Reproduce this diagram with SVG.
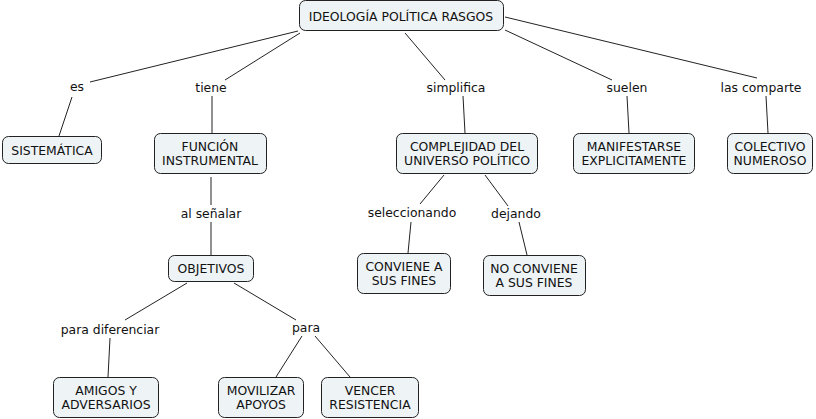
<svg xmlns="http://www.w3.org/2000/svg" width="816" height="419" viewBox="0 0 816 419">
<style>
.n rect{fill:#eef3f6;stroke:#222;stroke-width:1;}
text{font-family:"DejaVu Sans",Verdana,sans-serif;font-size:12.4px;fill:#111;text-anchor:middle;}
.c line{stroke:#222;stroke-width:1;}
</style>
<rect width="816" height="419" fill="#fff"/>
<g class="c" id="connectors">
<line x1="298" y1="31" x2="90" y2="82"/>
<line x1="72" y1="97" x2="59" y2="136"/>
<line x1="300" y1="33" x2="225" y2="80"/>
<line x1="212" y1="96" x2="212" y2="133"/>
<line x1="405" y1="33" x2="445" y2="80"/>
<line x1="463" y1="96" x2="465" y2="133"/>
<line x1="505" y1="30" x2="612" y2="80"/>
<line x1="627" y1="96" x2="629" y2="133"/>
<line x1="505" y1="17" x2="757" y2="78"/>
<line x1="766" y1="96" x2="768" y2="133"/>
<line x1="211" y1="177" x2="211" y2="205"/>
<line x1="211" y1="222" x2="211" y2="255"/>
<line x1="444" y1="175" x2="420" y2="204"/>
<line x1="411" y1="222" x2="408" y2="253"/>
<line x1="485" y1="175" x2="508" y2="206"/>
<line x1="519" y1="222" x2="527" y2="255"/>
<line x1="187" y1="283" x2="125" y2="320"/>
<line x1="110" y1="338" x2="108" y2="377"/>
<line x1="234" y1="283" x2="296" y2="320"/>
<line x1="302" y1="336" x2="276" y2="377"/>
<line x1="315" y1="336" x2="350" y2="377"/>
</g>
<g id="labels">
<text x="77" y="91">es</text>
<text x="211" y="92">tiene</text>
<text x="456" y="92">simplifica</text>
<text x="627" y="92">suelen</text>
<text x="761" y="92">las comparte</text>
<text x="211" y="218">al señalar</text>
<text x="412" y="217">seleccionando</text>
<text x="516" y="218">dejando</text>
<text x="110" y="334">para diferenciar</text>
<text x="306" y="332">para</text>
</g>
<g class="n" id="root"><rect x="299.5" y="0.5" width="204" height="30" rx="6"/><text x="401" y="20.5">IDEOLOGÍA POLÍTICA RASGOS</text></g>
<g class="n" id="sistematica"><rect x="2.5" y="136.5" width="99" height="27" rx="6"/><text x="52" y="155">SISTEMÁTICA</text></g>
<g class="n" id="funcion"><rect x="154.5" y="133.5" width="112" height="40" rx="6"/><text x="210" y="151">FUNCIÓN</text><text x="210" y="165">INSTRUMENTAL</text></g>
<g class="n" id="complejidad"><rect x="396.5" y="133.5" width="141" height="40" rx="6"/><text x="467" y="151">COMPLEJIDAD DEL</text><text x="467" y="165">UNIVERSO POLÍTICO</text></g>
<g class="n" id="manifestarse"><rect x="573.5" y="133.5" width="121" height="40" rx="6"/><text x="634" y="151">MANIFESTARSE</text><text x="634" y="165">EXPLICITAMENTE</text></g>
<g class="n" id="colectivo"><rect x="727.5" y="133.5" width="85" height="40" rx="6"/><text x="770" y="151">COLECTIVO</text><text x="770" y="165">NUMEROSO</text></g>
<g class="n" id="objetivos"><rect x="168.5" y="255.5" width="85" height="26" rx="6"/><text x="211" y="273">OBJETIVOS</text></g>
<g class="n" id="conviene"><rect x="357.5" y="253.5" width="93" height="40" rx="6"/><text x="404" y="271">CONVIENE A</text><text x="404" y="285">SUS FINES</text></g>
<g class="n" id="noconviene"><rect x="483.5" y="255.5" width="102" height="40" rx="6"/><text x="534" y="273">NO CONVIENE</text><text x="534" y="287">A SUS FINES</text></g>
<g class="n" id="amigos"><rect x="53.5" y="377.5" width="105" height="40" rx="6"/><text x="106" y="395">AMIGOS Y</text><text x="106" y="409">ADVERSARIOS</text></g>
<g class="n" id="movilizar"><rect x="218.5" y="377.5" width="85" height="40" rx="6"/><text x="261" y="395">MOVILIZAR</text><text x="261" y="409">APOYOS</text></g>
<g class="n" id="vencer"><rect x="321.5" y="377.5" width="97" height="40" rx="6"/><text x="370" y="395">VENCER</text><text x="370" y="409">RESISTENCIA</text></g>
</svg>
